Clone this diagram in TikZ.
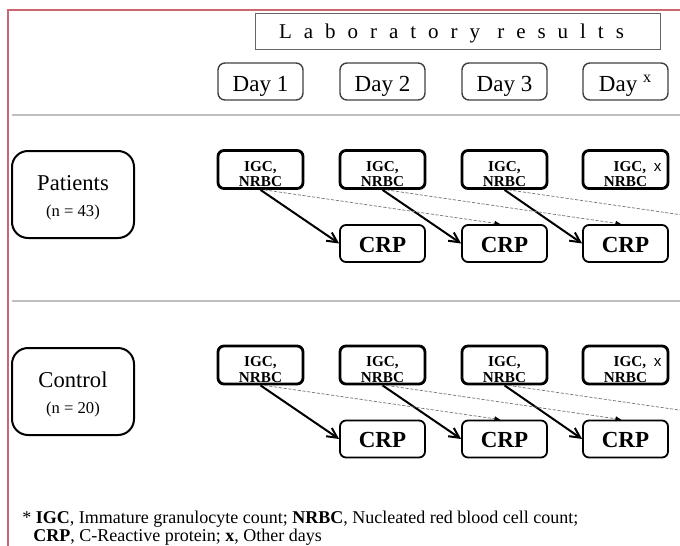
\documentclass[tikz,border=0pt]{standalone}
\usepackage{fontspec}
\setmainfont{Liberation Serif}
\newfontfamily\xsans{Liberation Sans}
\usepackage{tikz}
\usepackage{xcolor}
\usetikzlibrary{arrows.meta}
\definecolor{framered}{RGB}{204,102,112}
\definecolor{rulegray}{RGB}{192,192,192}

\tikzset{
	daybox/.style={draw=black!75, line width=0.7pt, rounded corners=3.5pt, minimum width=42.5pt, minimum height=18.5pt, inner sep=0pt, text height=9.5pt, text depth=0pt, font=\fontsize{11.5}{13}\selectfont},
	labbox/.style={draw=black, line width=1.4pt, rounded corners=3pt, minimum width=42.5pt, minimum height=19pt, inner sep=0pt, align=center, font=\fontsize{7.6}{7.6}\selectfont\bfseries},
	crpbox/.style={draw=black, line width=0.9pt, rounded corners=3pt, minimum width=42.5pt, minimum height=18.5pt, inner sep=0pt, text height=8.5pt, text depth=0pt, font=\fontsize{11.5}{13}\selectfont\bfseries},
	groupbox/.style={draw=black, line width=1pt, rounded corners=8pt, minimum width=61pt, minimum height=43.5pt, inner sep=0pt, align=center},
	solidarr/.style={line width=1pt, -{Straight Barb[length=5pt,width=5pt]}},
	dasharr/.style={draw=black!55, line width=0.35pt, dash pattern=on 1.6pt off 0.8pt, -{Latex[length=3pt,width=2.6pt,black]}}
}
\newcommand{\labtext}{\rule{0pt}{9.5pt}IGC,\\NRBC}
\newcommand{\labtextx}{\rule{0pt}{9.5pt}\hspace*{12pt}IGC,\ \ {\xsans\mdseries x}\\NRBC}

\begin{document}
\begin{tikzpicture}[x=0.5pt,y=-0.5pt]
			\useasboundingbox (0,0) rectangle (680,546);
			% frame and rules
			\draw[framered, line width=0.8pt] (8,546) -- (8,10) -- (680,10);
			\draw[rulegray, line width=0.7pt] (12,115) -- (680,115);
			\draw[rulegray, line width=0.7pt] (12,301) -- (680,301);
			% header
			\node[draw=black!60, line width=0.5pt, minimum width=202.5pt, minimum height=18pt, inner sep=0pt, text height=8pt, text depth=0pt, font=\fontsize{10.5}{12}\selectfont\addfontfeature{LetterSpace=57}] (title) at (457.5,31) {\hspace*{-6pt}Laboratory results};
			\node[daybox] (day1) at (260.5,81.5) {Day 1};
			\node[daybox] (day2) at (382.5,81.5) {Day 2};
			\node[daybox] (day3) at (504.5,81.5) {Day 3};
			\node[daybox] (dayx) at (625.5,81.5) {Day \textsuperscript{x}};
			% patients
			\node[groupbox] (pat) at (73,194.5) {\rule{0pt}{11pt}{\fontsize{11.3}{13}\selectfont Patients}\\[1pt]{\fontsize{8.3}{9}\selectfont (n = 43)}};
			\node[labbox] (pigc1) at (260.5,169.5) {\labtext};
			\node[labbox] (pigc2) at (382.5,169.5) {\labtext};
			\node[labbox] (pigc3) at (504.5,169.5) {\labtext};
			\node[labbox] (pigcx) at (625.5,169.5) {\labtextx};
			\node[crpbox] (pcrp2) at (382.5,243.5) {CRP};
			\node[crpbox] (pcrp3) at (504.5,243.5) {CRP};
			\node[crpbox] (pcrpx) at (625.5,243.5) {CRP};
			\coordinate (pout) at (745,224);
			\draw[solidarr] (pigc1.south) -- (pcrp2.west);
			\draw[solidarr] (pigc2.south) -- (pcrp3.west);
			\draw[solidarr] (pigc3.south) -- (pcrpx.west);
			\draw[dasharr] ([xshift=2pt]pigc1.south) -- ([xshift=-2pt]pcrp3.north);
			\draw[dasharr] ([xshift=2pt]pigc2.south) -- ([xshift=-2pt]pcrpx.north);
			\draw[dasharr] ([xshift=2pt]pigc3.south) -- (pout);
			% control
			\node[groupbox] (ctl) at (73,391.5) {\rule{0pt}{11pt}{\fontsize{11.3}{13}\selectfont Control}\\[1pt]{\fontsize{8.3}{9}\selectfont (n = 20)}};
			\node[labbox] (cigc1) at (260.5,365) {\labtext};
			\node[labbox] (cigc2) at (382.5,365) {\labtext};
			\node[labbox] (cigc3) at (504.5,365) {\labtext};
			\node[labbox] (cigcx) at (625.5,365) {\labtextx};
			\node[crpbox] (ccrp2) at (382.5,439) {CRP};
			\node[crpbox] (ccrp3) at (504.5,439) {CRP};
			\node[crpbox] (ccrpx) at (625.5,439) {CRP};
			\coordinate (cout) at (745,419.5);
			\draw[solidarr] (cigc1.south) -- (ccrp2.west);
			\draw[solidarr] (cigc2.south) -- (ccrp3.west);
			\draw[solidarr] (cigc3.south) -- (ccrpx.west);
			\draw[dasharr] ([xshift=2pt]cigc1.south) -- ([xshift=-2pt]ccrp3.north);
			\draw[dasharr] ([xshift=2pt]cigc2.south) -- ([xshift=-2pt]ccrpx.north);
			\draw[dasharr] ([xshift=2pt]cigc3.south) -- (cout);
			% footnote
			\node[anchor=base west, inner sep=0pt, font=\fontsize{9}{10}\selectfont] (note1) at (22,523) {* \textbf{IGC}, Immature granulocyte count; \textbf{NRBC}, Nucleated red blood cell count;};
			\node[anchor=base west, inner sep=0pt, font=\fontsize{9}{10}\selectfont] (note2) at (33,541) {\textbf{CRP}, C-Reactive protein; \textbf{x}, Other days};
		\end{tikzpicture}
\end{document}
